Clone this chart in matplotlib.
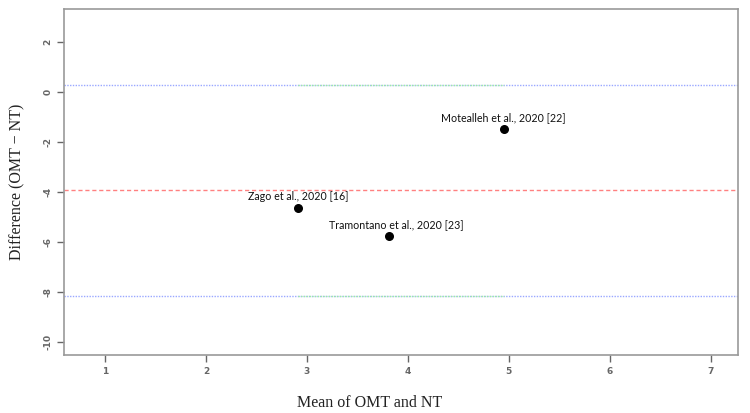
import matplotlib
matplotlib.use("Agg")
import matplotlib.pyplot as plt

plt.rcParams["axes.unicode_minus"] = False

studies = ["Motealleh et al., 2020 [22]", "Zago et al., 2020 [16]", "Tramontano et al., 2020 [23]"]
mean_vals = [4.95, 2.91, 3.81]
diff_vals = [-1.49, -4.64, -5.77]
bias = -3.93
upper_loa = 0.29
lower_loa = -8.17
xticks = [1, 2, 3, 4, 5, 6, 7]
yticks = [2, 0, -2, -4, -6, -8, -10]

fig = plt.figure(figsize=(7.5, 4.13), dpi=100)
ax = fig.add_axes([64/750, 1-355/413, (738-64)/750, (355-9)/413])
ax.set_xlim(0.594, 7.27)
ax.set_ylim(-10.53, 3.31)

ax.axhline(upper_loa, color="#9aa8ff", lw=1.0, ls=(0, (1, 1)))
ax.axhline(lower_loa, color="#9aa8ff", lw=1.0, ls=(0, (1, 1)))
ax.axhline(bias, color="#ff8080", lw=1.0, ls=(0, (3, 2)))
xmin, xmax = min(mean_vals), max(mean_vals)
ax.plot([xmin, xmax], [upper_loa, upper_loa], color="#a0f0a0", lw=1.0, ls=(0, (1, 1)))
ax.plot([xmin, xmax], [lower_loa, lower_loa], color="#a0f0a0", lw=1.0, ls=(0, (1, 1)))

ax.scatter(mean_vals, diff_vals, s=30, color="black", zorder=5)
offsets = [0.0, 0.0, 0.08]
for name, x, y, dx in zip(studies, mean_vals, diff_vals, offsets):
    ax.annotate(name, (x, y), xytext=(dx * 101 * 0.72, 4), textcoords="offset points",
                ha="center", va="bottom", fontsize=7.7, family="Lato", color="#111111")

for s in ax.spines.values():
    s.set_color("#999999")
    s.set_linewidth(1.2)
ax.set_xticks(xticks)
ax.set_yticks(yticks)
ax.tick_params(axis="both", colors="#666666", labelsize=6.5, length=5, width=1)
for lab in ax.get_xticklabels() + ax.get_yticklabels():
    lab.set_fontweight("bold")
for lab in ax.get_yticklabels():
    lab.set_rotation(90)
    lab.set_va("center")

fig.text(370/750, 1-403/413, "Mean of OMT and NT", ha="center", va="center",
         family="Liberation Serif", fontsize=11.5, color="#222222")
fig.text(17/750, 1-182/413, "Difference (OMT \u2212 NT)", ha="center", va="center",
         rotation=90, family="Liberation Serif", fontsize=11.5, color="#222222")

fig.savefig("out.png", dpi=100)
